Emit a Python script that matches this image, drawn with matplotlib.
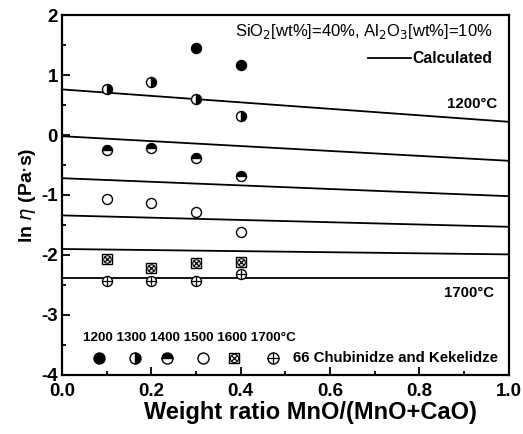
import matplotlib
matplotlib.use("Agg")
import matplotlib.pyplot as plt
from matplotlib.ticker import MultipleLocator

plt.rcParams['font.family'] = ['Liberation Sans', 'DejaVu Sans']

# Data
ratio = [0.1, 0.2, 0.3, 0.4]
temps = ['1200', '1300', '1400', '1500', '1600', '1700']
exp_1200_x = [0.3, 0.4]
exp_1200 = [1.45, 1.17]
exp_1300 = [0.76, 0.89, 0.60, 0.32]
exp_1400 = [-0.25, -0.22, -0.39, -0.69]
exp_1500 = [-1.06, -1.14, -1.28, -1.62]
exp_1600 = [-2.06, -2.22, -2.14, -2.12]
exp_1700 = [-2.43, -2.43, -2.43, -2.31]

calc_x = [0.0, 1.0]
calc_lines = [
    [0.76, 0.22],
    [-0.02, -0.43],
    [-0.72, -1.02],
    [-1.34, -1.53],
    [-1.90, -1.99],
    [-2.39, -2.39],
]

xticks = [0.0, 0.2, 0.4, 0.6, 0.8, 1.0]
xticklabels = ['0.0', '0.2', '0.4', '0.6', '0.8', '1.0']
yticks = [-4, -3, -2, -1, 0, 1, 2]
yticklabels = ['-4', '-3', '-2', '-1', '0', '1', '2']

fig = plt.figure(figsize=(5.23, 4.34), dpi=100)
ax = fig.add_axes([0.1185, 0.136, 0.973 - 0.1185, 0.9654 - 0.136])

for yy in calc_lines:
    ax.plot(calc_x, yy, color='black', lw=1.3, zorder=2)

ms = 7.2
mew = 1.0
def plot_series(ax, x, y, kind, transform=None, scale=1.0):
    kw = {}
    if transform is not None:
        kw['transform'] = transform
        kw['clip_on'] = False
    m = ms * scale
    if kind == '1200':
        ax.plot(x, y, 'o', ms=m, mfc='black', mec='black', mew=mew, ls='none', zorder=3, **kw)
    elif kind == '1300':
        ax.plot(x, y, 'o', ms=m, fillstyle='right', mfc='black', mfcalt='white', mec='black', mew=mew, ls='none', zorder=3, **kw)
    elif kind == '1400':
        ax.plot(x, y, 'o', ms=m, fillstyle='top', mfc='black', mfcalt='white', mec='black', mew=mew, ls='none', zorder=3, **kw)
    elif kind == '1500':
        ax.plot(x, y, 'o', ms=m, mfc='white', mec='black', mew=mew, ls='none', zorder=3, **kw)
    elif kind == '1600':
        ax.plot(x, y, 's', ms=m*0.95, mfc='white', mec='black', mew=mew, ls='none', zorder=3, **kw)
        ax.plot(x, y, 'o', ms=m*0.75, mfc='none', mec='black', mew=0.8, ls='none', zorder=4, **kw)
        ax.plot(x, y, 'x', ms=m*0.6, mec='black', mew=0.9, ls='none', zorder=4, **kw)
    elif kind == '1700':
        ax.plot(x, y, 'o', ms=m, mfc='white', mec='black', mew=mew, ls='none', zorder=3, **kw)
        ax.plot(x, y, '+', ms=m, mec='black', mew=0.9, ls='none', zorder=4, **kw)

plot_series(ax, exp_1200_x, exp_1200, '1200')
plot_series(ax, ratio, exp_1300, '1300')
plot_series(ax, ratio, exp_1400, '1400')
plot_series(ax, ratio, exp_1500, '1500')
plot_series(ax, ratio, exp_1600, '1600')
plot_series(ax, ratio, exp_1700, '1700')

# bottom legend
leg_x = [0.083, 0.163, 0.235, 0.315, 0.385, 0.472]
for lx, t in zip(leg_x, temps):
    plot_series(ax, [lx], [0.047], t, transform=ax.transAxes, scale=1.1)
ax.text(0.047, 0.103, '1200 1300 1400 1500 1600 1700°C', transform=ax.transAxes,
        fontsize=9.7, fontweight='bold', ha='left', va='center')
ax.text(0.517, 0.047, '66 Chubinidze and Kekelidze', transform=ax.transAxes,
        fontsize=10.8, fontweight='bold', ha='left', va='center')

# annotations
ax.text(0.964, 1.72, 'SiO$_2$[wt%]=40%, Al$_2$O$_3$[wt%]=10%', fontsize=12,
        ha='right', va='center')
ax.plot([0.685, 0.78], [1.28, 1.28], color='black', lw=1.3)
ax.text(0.785, 1.28, 'Calculated', fontsize=11.3, fontweight='bold', ha='left', va='center')
ax.text(0.975, 0.52, '1200°C', fontsize=10.8, fontweight='bold', ha='right', va='center')
ax.text(0.966, -2.63, '1700°C', fontsize=10.8, fontweight='bold', ha='right', va='center')

ax.set_xlim(0, 1.0)
ax.set_ylim(-4, 2)
ax.set_xticks(xticks)
ax.set_xticklabels(xticklabels, fontweight='bold')
ax.set_yticks(yticks)
ax.set_yticklabels(yticklabels, fontweight='bold')
ax.xaxis.set_minor_locator(MultipleLocator(0.1))
ax.yaxis.set_minor_locator(MultipleLocator(0.5))
ax.tick_params(which='both', direction='in', width=1.3)
ax.tick_params(which='major', length=6, labelsize=13.5)
ax.tick_params(axis='x', which='major', pad=6)
ax.tick_params(axis='y', which='major', pad=3)
ax.tick_params(which='minor', length=3)
for s in ax.spines.values():
    s.set_linewidth(1.6)

ax.set_xlabel('Weight ratio MnO/(MnO+CaO)', fontsize=17, fontweight='bold')
ax.xaxis.set_label_coords(0.557, -0.072)
ax.set_ylabel(r'ln $\eta$ (Pa$\cdot$s)', fontsize=14, fontweight='bold', labelpad=2)

fig.savefig('out.png', dpi=100)
